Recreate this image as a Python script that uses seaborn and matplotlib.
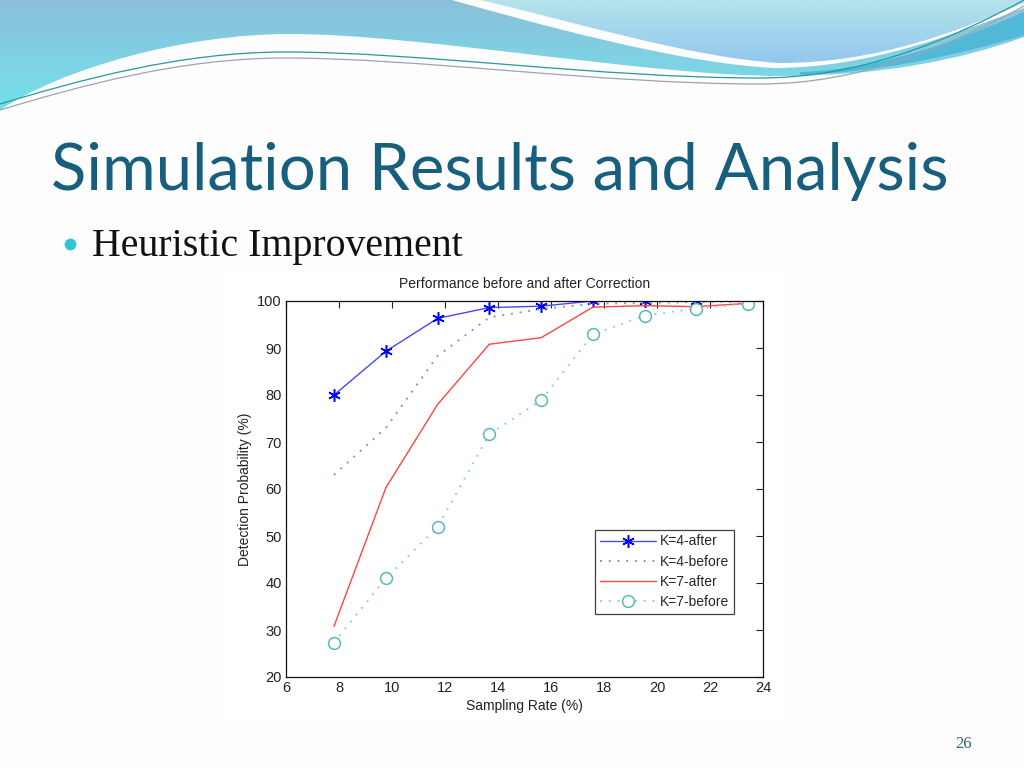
import matplotlib
matplotlib.use("Agg")
import matplotlib.pyplot as plt
import numpy as np
import pandas as pd
import seaborn as sns
from matplotlib.path import Path
from matplotlib.patches import PathPatch

# sampling rate (%) and detection probability (%)
rate = [7.81, 9.77, 11.72, 13.67, 15.63, 17.58, 19.53, 21.48, 23.44]
k4_after = [80.0, 89.3, 96.3, 98.6, 98.9, 100.0, 100.0, 100.0, 100.0]
k4_before = [63.0, 73.0, 88.3, 96.5, 98.3, 99.4, 99.6, 99.8, 99.9]
k7_after = [30.8, 60.3, 78.0, 90.8, 92.2, 98.7, 99.0, 98.8, 99.5]
k7_before = [27.3, 41.0, 51.9, 71.6, 78.9, 92.9, 96.9, 98.4, 99.4]

xticks = list(range(6, 25, 2))
yticks = list(range(20, 101, 10))

sns.set_theme(style="white")
plt.rcParams["font.family"] = ["Liberation Sans", "DejaVu Sans"]

fig = plt.figure(figsize=(10.24, 7.68), dpi=100)
fig.patch.set_facecolor("#fdfdfd")

# slide background with the wave decoration
bg = fig.add_axes([0, 0, 1, 1])
bg.set_xlim(0, 1024)
bg.set_ylim(768, 0)
bg.axis("off")

C, L, M = Path.CURVE4, Path.LINETO, Path.MOVETO


def rgb(h):
    return [int(h[i:i + 2], 16) / 255 for i in (1, 3, 5)]


def shape(verts, codes, top, bottom, y0, y1, z):
    patch = PathPatch(Path(verts, codes), fc="none", ec="none", zorder=z)
    bg.add_patch(patch)
    n = 64
    grad = np.array([np.linspace(a, b, n) for a, b in zip(top, bottom)]).T
    img = bg.imshow(grad[:, None, :], extent=(0, 1024, y1, y0), aspect="auto",
                    origin="upper", zorder=z)
    img.set_clip_path(patch)


blue = [(0, 0), (0, 110), (60, 70), (180, 34), (290, 34), (420, 34), (650, 76),
        (780, 76), (880, 76), (960, 60), (1024, 37), (1024, 0), (0, 0)]
blue_c = [M, L, C, C, C, C, C, C, C, C, C, L, L]
shape(blue, blue_c, rgb("#8cc0da"), rgb("#72e2ec"), 0, 115, 1)

stripe = [(452, 0), (530, 22), (680, 64), (775, 68), (870, 68), (960, 32),
          (1024, 8), (1024, 0), (452, 0)]
stripe_c = [M, C, C, C, C, C, C, L, L]
bg.add_patch(PathPatch(Path(stripe, stripe_c), fc="#fdfdfd", ec="none", zorder=2))

pale = [(480, 0), (560, 18), (690, 58), (780, 63), (880, 63), (960, 30),
        (1024, 3), (1024, 0), (480, 0)]
pale_c = [M, C, C, C, C, C, C, L, L]
shape(pale, pale_c, rgb("#b4e4ea"), rgb("#92c6ee"), 0, 65, 3)

band = [(800, 72), (880, 70), (960, 40), (1024, 12), (1024, 35), (960, 55),
        (880, 72), (800, 75), (800, 72)]
band_c = [M, C, C, C, L, C, C, C, L]
bg.add_patch(PathPatch(Path(band, band_c), fc="#52b8d8", ec="none", zorder=4))

for off, col in [(0, "#2a9898"), (6, "#9aa6b0")]:
    wave = [(0, 104 + off), (80, 80 + off), (180, 52 + off), (285, 52 + off),
            (420, 52 + off), (600, 78 + off), (760, 78 + off),
            (860, 78 + off), (950, 40 + off), (1024, 0 + off)]
    bg.add_patch(PathPatch(Path(wave, [M] + [C] * 9), fc="none", ec=col,
                           lw=0.9, zorder=5))

bg.text(51, 190, "Simulation Results and Analysis", fontsize=47,
        color="#175f7c", family=["Lato", "DejaVu Sans"], va="baseline")
bg.scatter([70], [244], s=55, color="#2cc6d8", zorder=6)
bg.text(92, 256, "Heuristic Improvement", fontsize=28.7, color="#111111",
        family=["Liberation Serif", "DejaVu Serif"], va="baseline")
bg.text(955, 748, "26", fontsize=12, color="#2a6272",
        family=["Liberation Serif", "DejaVu Serif"], va="baseline")
bg.add_patch(plt.Rectangle((226, 270), 558, 452, fc="white", ec="none", zorder=6))

# the MATLAB-style chart
ax = fig.add_axes([286 / 1024, 91 / 768, 477 / 1024, 376 / 768])
ax.set_facecolor("white")

df = pd.DataFrame({"rate": rate, "K=4-after": k4_after, "K=4-before": k4_before,
                   "K=7-after": k7_after, "K=7-before": k7_before})

sns.lineplot(data=df, x="rate", y="K=4-after", ax=ax, color="#4848f0", lw=1.0,
             marker=(6, 2, 0), markersize=9, mec="#0000ff", mew=1.1,
             label="K=4-after")
sns.lineplot(data=df, x="rate", y="K=4-before", ax=ax, color="#8a9e94", lw=1.4,
             linestyle=(0, (1, 3.5)), label="K=4-before")
sns.lineplot(data=df, x="rate", y="K=7-after", ax=ax, color="#ff4444", lw=1.0,
             label="K=7-after")
sns.lineplot(data=df, x="rate", y="K=7-before", ax=ax, color="#94d2d2", lw=1.4,
             linestyle=(0, (1, 3.5)), marker="o", markersize=8.5, mfc="white",
             mec="#5ab8b8", mew=1.1, label="K=7-before")

ax.set_xlim(6, 24)
ax.set_ylim(20, 100)
ax.set_xticks(xticks)
ax.set_yticks(yticks)
ax.tick_params(direction="in", length=5, width=0.8, top=True, right=True,
               labelsize=10.5, colors="#222222", pad=3)
for s in ax.spines.values():
    s.set_color("#111111")
    s.set_linewidth(0.9)
ax.set_xlabel("Sampling Rate (%)", fontsize=10, color="#222222", labelpad=3)
ax.set_ylabel("Detection Probability (%)", fontsize=10, color="#222222", labelpad=4)
ax.set_title("Performance before and after Correction", fontsize=10,
             color="#222222", pad=9)

leg = ax.legend(loc="upper left", bbox_to_anchor=(0.648, 0.392), fontsize=10,
                frameon=True, fancybox=False, edgecolor="#111111",
                handlelength=4.0, handletextpad=0.3, labelspacing=0.45,
                borderpad=0.35, borderaxespad=0)
leg.get_frame().set_linewidth(0.9)

fig.savefig("out.png", dpi=100, facecolor=fig.get_facecolor())
